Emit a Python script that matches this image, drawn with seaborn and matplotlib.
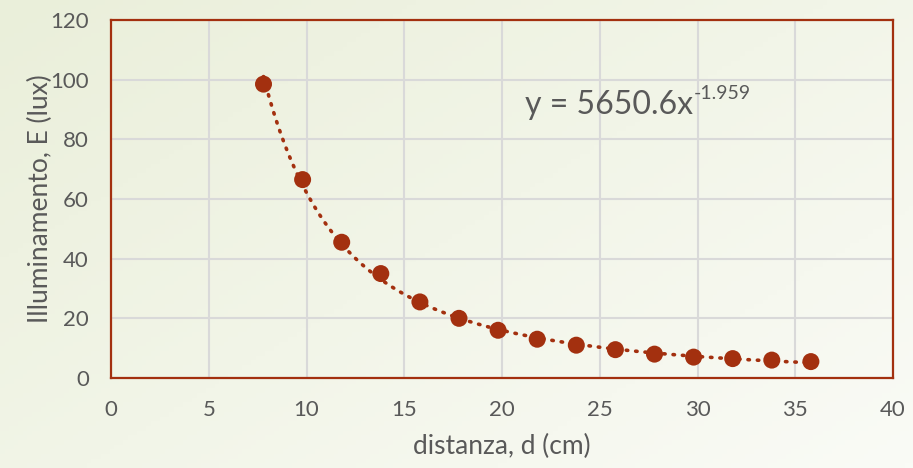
import numpy as np
import pandas as pd
import matplotlib
matplotlib.use('Agg')
import matplotlib.pyplot as plt
import seaborn as sns

distanza = [7.8, 9.8, 11.8, 13.8, 15.8, 17.8, 19.8, 21.8, 23.8, 25.8, 27.8, 29.8, 31.8, 33.8, 35.8]
illuminamento = [98.5, 66.5, 45.5, 35.0, 25.5, 20.0, 16.0, 13.0, 11.0, 9.5, 8.0, 7.0, 6.5, 6.0, 5.5]

# power trendline shown on the chart
coeff_a = 5650.6
coeff_b = -1.959

x_ticks = [0, 5, 10, 15, 20, 25, 30, 35, 40]
y_ticks = [0, 20, 40, 60, 80, 100, 120]

red = '#a3300f'
grey_txt = '#595959'

sns.set_theme(style='white')
plt.rcParams['font.family'] = ['Lato', 'DejaVu Sans']

df = pd.DataFrame({'d': distanza, 'E': illuminamento})

fig = plt.figure(figsize=(9.13, 4.68), dpi=100)

# soft green gradient background
bg = fig.add_axes([0, 0, 1, 1], zorder=-10)
gx, gy = np.meshgrid(np.linspace(0, 1, 200), np.linspace(0, 1, 100))
grad = np.clip(0.55 * gx + 0.45 * gy, 0, 1)
cmap = matplotlib.colors.LinearSegmentedColormap.from_list('bg', ['#eaefda', '#fafbf6'])
bg.imshow(grad, cmap=cmap, aspect='auto', extent=[0, 1, 0, 1], origin='upper')
bg.axis('off')

ax = fig.add_axes([0.1216, 0.1923, 0.8565, 0.7650])
ax.set_facecolor('none')

# trendline
xt = np.linspace(min(distanza), max(distanza), 200)
ax.plot(xt, coeff_a * xt ** coeff_b, color=red, lw=2.6, linestyle=(0, (0.4, 2.2)),
        dash_capstyle='round', zorder=2)

sns.scatterplot(data=df, x='d', y='E', ax=ax, color=red, s=150, edgecolor='none', zorder=3)

ax.set_xlim(0, 40)
ax.set_ylim(0, 120)
ax.set_xticks(x_ticks)
ax.set_yticks(y_ticks)
ax.grid(True, color='#d9d9d9', lw=1.5)
ax.set_axisbelow(True)
for s in ax.spines.values():
    s.set_color(red)
    s.set_linewidth(1.6)
ax.tick_params(axis='both', length=0, labelsize=16, labelcolor=grey_txt, pad=16)
ax.set_xlabel('distanza, d (cm)', fontsize=19, color=grey_txt, labelpad=10)
ax.set_ylabel('Illuminamento, E (lux)', fontsize=19, color=grey_txt, labelpad=-2)

eq = ax.text(21.2, 91.5, 'y = 5650.6x', fontsize=23, color=grey_txt, va='center')
ax.annotate('-1.959', xy=(1, 0.5), xycoords=eq, xytext=(0, 2), textcoords='offset points',
            fontsize=14, color=grey_txt, va='bottom', ha='left')

fig.savefig('out.png', dpi=100)
